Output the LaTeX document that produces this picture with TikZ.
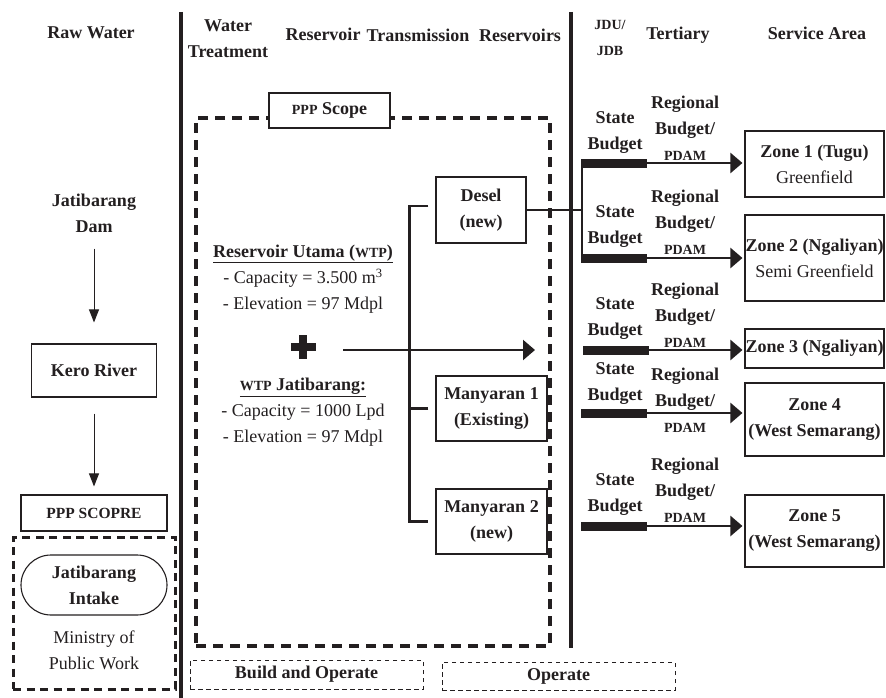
\documentclass[tikz,border=0pt]{standalone}
\usepackage{fontspec}
\setmainfont{Liberation Serif}
\usetikzlibrary{arrows.meta}
\definecolor{ink}{RGB}{35,31,32}
% small capitals imitation
\newcommand\smcp[1]{{\fontsize{14pt}{14pt}\selectfont #1}}

\begin{document}
\begin{tikzpicture}[x=1pt,y=-1pt,
  every node/.style={text=ink, font=\fontsize{18pt}{26pt}\selectfont, inner sep=0pt, align=center},
  hd/.style={font=\fontsize{18pt}{26pt}\selectfont\bfseries},
  divider/.style={draw=ink, line width=4.6pt},
  box/.style={draw=ink, line width=1.1pt, fill=white},
  dbox/.style={draw=ink, line width=3pt, dash pattern=on 8pt off 5.5pt},
  bigdash/.style={draw=ink, line width=3.1pt, dash pattern=on 10pt off 7pt},
  tdash/.style={draw=ink, line width=0.9pt, dash pattern=on 4.5pt off 3.5pt},
  thinarrow/.style={draw=ink, line width=1pt, -{Triangle[length=13pt,width=10pt]}},
  bigarrow/.style={draw=ink, line width=2.3pt, -{Triangle[length=12pt,width=20pt]}},
  brk/.style={draw=ink, line width=2.3pt},
  bar/.style={fill=ink, minimum width=66pt, minimum height=9pt, inner sep=0pt},
]
\useasboundingbox (0,0) rectangle (886,698);

% column headers
\node[hd] (hraw) at (91,33) {Raw Water};
\node[hd] (hwt) at (228,39) {Water\\Treatment};
\node[hd] (hres) at (323,34) {Reservoir};
\node[hd] (htr) at (418,35) {Transmission};
\node[hd] (hress) at (520,35) {Reservoirs};
\node[hd] (hjdu) at (610,38) {\smcp{JDU/}\\\smcp{JDB}};
\node[hd] (hter) at (678,35) {Tertiary};
\node[hd] (hsrv) at (817,33) {Service Area};

% column dividers
\draw[divider] (181,12) -- (181,698);
\draw[divider] (571,12) -- (571,648);

% raw water column
\node[hd] (dam) at (94,213) {Jatibarang\\Dam};
\node[box, hd, minimum width=125pt, minimum height=53pt] (kero) at (94,370.5) {Kero River};
\node[box, minimum width=146pt, minimum height=36pt] (scopre) at (94,513) {\bfseries{\fontsize{15.5pt}{15.5pt}\selectfont PPP SCOPRE}};
\node[dbox, minimum width=162pt, minimum height=152pt] (mpw) at (94,613) {};
\node[draw=ink, line width=1.1pt, rounded corners=30pt, minimum width=146pt, minimum height=60pt, hd] (intake) at (94,585) {Jatibarang\\Intake};
\node (minis) at (94,650) {Ministry of\\Public Work};

\draw[thinarrow, shorten <=16pt, shorten >=21pt] (dam) -- (kero);
\draw[thinarrow, shorten <=16pt, shorten >=8pt] (kero) -- (scopre);

% PPP scope area
\node[bigdash, minimum width=354pt, minimum height=528pt] (ppp) at (373,382) {};
\node[box, minimum width=121pt, minimum height=35pt] (pppl) at (329.5,110.5) {\bfseries\smcp{PPP} Scope};

\node (utama) at (303,279) {\textbf{\underline{Reservoir Utama (\smcp{WTP})}}\\- Capacity = 3.500 m\textsuperscript{3}\\- Elevation = 97 Mdpl};
\node[minimum width=24pt, minimum height=22pt] (plus) at (303,347) {};
\fill[ink] (plus.center) ++(-12.5,-4) rectangle ++(25,8);
\fill[ink] (plus.center) ++(-4,-12) rectangle ++(8,24);
\node (wtpj) at (303,412) {\textbf{\underline{\smcp{WTP} Jatibarang:}}\\- Capacity = 1000 Lpd\\- Elevation = 97 Mdpl};

\coordinate (tend) at (535,350);
\draw[bigarrow, shorten <=28pt] (plus.east |- tend) -- (tend);

% transmission reservoirs
\node[box, hd, minimum width=90pt, minimum height=66pt] (desel) at (481,210) {Desel\\(new)};
\node[box, hd, minimum width=111pt, minimum height=65pt] (many1) at (491.5,408.5) {Manyaran 1\\(Existing)};
\node[box, hd, minimum width=111pt, minimum height=65pt] (many2) at (491.5,521.5) {Manyaran 2\\(new)};

\draw[brk] ([xshift=-7pt,yshift=4pt]desel.west) -- ++(-19,0) |- ([xshift=-7pt]many2.west);
\draw[brk] ([xshift=-7pt]many1.west) -- ++(-19,0);

% tertiary distribution
\node[bar] (b1) at (614,163) {};
\node[bar] (b2) at (614,258) {};
\node[bar] (b3) at (616,350) {};
\node[bar] (b4) at (614,413) {};
\node[bar] (b5) at (614,526) {};

\coordinate (jb) at (582,210);
\draw[brk] (desel.east) -- (jb);
\draw[brk] ([xshift=1pt]b1.west) -- ([xshift=1pt]b2.west);

\node[hd] (s1) at (615,133) {State\\Budget};
\node[hd] (r1) at (685,128) {Regional\\Budget/\\\smcp{PDAM}};
\node[hd] (s2) at (615,227) {State\\Budget};
\node[hd] (r2) at (685,222) {Regional\\Budget/\\\smcp{PDAM}};
\node[hd] (s3) at (615,319) {State\\Budget};
\node[hd] (r3) at (685,315) {Regional\\Budget/\\\smcp{PDAM}};
\node[hd] (s4) at (615,384) {State\\Budget};
\node[hd] (r4) at (685,400) {Regional\\Budget/\\\smcp{PDAM}};
\node[hd] (s5) at (615,495) {State\\Budget};
\node[hd] (r5) at (685,490) {Regional\\Budget/\\\smcp{PDAM}};

% service areas
\node[box, minimum width=139pt, minimum height=66pt] (z1) at (814.5,164) {\textbf{Zone 1 (Tugu)}\\Greenfield};
\node[box, minimum width=139pt, minimum height=86pt] (z2) at (814.5,258) {\textbf{Zone 2 (Ngaliyan)}\\Semi Greenfield};
\node[box, hd, minimum width=139pt, minimum height=39pt] (z3) at (814.5,348.5) {Zone 3 (Ngaliyan)};
\node[box, hd, minimum width=139pt, minimum height=73pt] (z4) at (814.5,419.5) {Zone 4\\(West Semarang)};
\node[box, hd, minimum width=139pt, minimum height=72pt] (z5) at (814.5,531) {Zone 5\\(West Semarang)};

\draw[bigarrow, shorten >=2pt] (b1.east) -- (b1.east -| z1.west);
\draw[bigarrow, shorten >=2pt] (b2.east) -- (b2.east -| z2.west);
\draw[bigarrow, shorten >=2pt] (b3.east) -- (b3.east -| z3.west);
\draw[bigarrow, shorten >=2pt] (b4.east) -- (b4.east -| z4.west);
\draw[bigarrow, shorten >=2pt] (b5.east) -- (b5.east -| z5.west);

% contract phases
\node[tdash, hd, minimum width=233pt, minimum height=29pt] (bo) at (306.5,674.5) {Build and Operate};
\node[tdash, hd, minimum width=233pt, minimum height=28pt] (op) at (558.5,676) {Operate};
\end{tikzpicture}
\end{document}
